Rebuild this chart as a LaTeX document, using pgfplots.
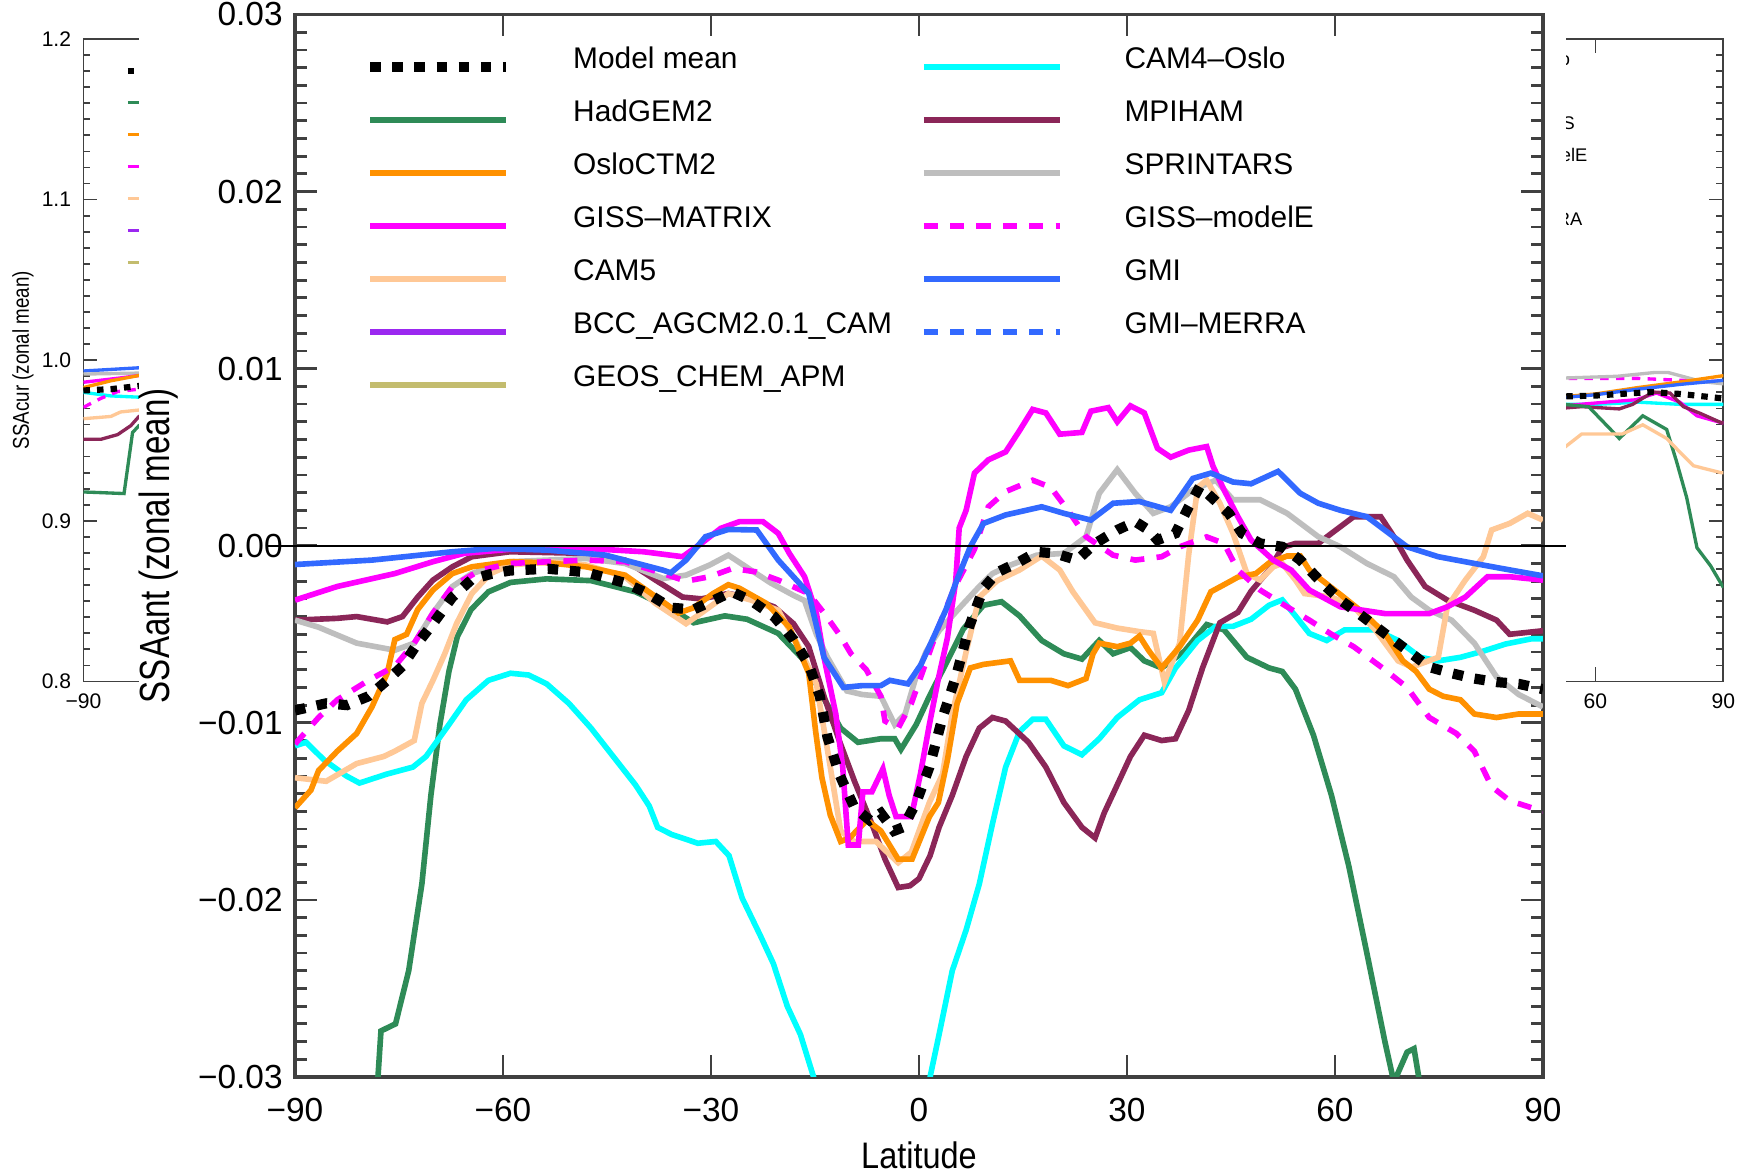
\documentclass[border=0pt]{standalone}
\usepackage{fontspec}
\setmainfont{Liberation Sans}
\usepackage{graphicx}
\usepackage{pgfplots}
\pgfplotsset{compat=1.18}

\definecolor{cHad}{RGB}{46,139,87}
\definecolor{cOslo}{RGB}{255,145,0}
\definecolor{cGissM}{RGB}{255,0,255}
\definecolor{cCam5}{RGB}{255,200,150}
\definecolor{cBcc}{RGB}{155,40,240}
\definecolor{cGeos}{RGB}{195,188,110}
\definecolor{cCam4}{RGB}{0,255,255}
\definecolor{cMpi}{RGB}{139,38,88}
\definecolor{cSpr}{RGB}{190,190,190}
\definecolor{cGmi}{RGB}{50,105,255}

\tikzset{
 pMM/.style={black, line width=2.9pt, dash pattern=on 3pt off 3.3pt},
 pHad/.style={cHad, line width=1.6pt},
 pOslo/.style={cOslo, line width=1.6pt},
 pGissM/.style={cGissM, line width=1.6pt},
 pCam5/.style={cCam5, line width=1.6pt},
 pBcc/.style={cBcc, line width=1.6pt},
 pGeos/.style={cGeos, line width=1.6pt},
 pCam4/.style={cCam4, line width=1.6pt},
 pMpi/.style={cMpi, line width=1.6pt},
 pSpr/.style={cSpr, line width=1.6pt},
 pGissE/.style={cGissM, line width=1.6pt, dash pattern=on 4pt off 3.5pt},
 pGmi/.style={cGmi, line width=1.6pt},
 pGmiM/.style={cGmi, line width=1.6pt, dash pattern=on 4pt off 3.5pt},
 bg/.style={line width=0.95pt},
 bgd/.style={line width=0.95pt, dash pattern=on 2.4pt off 2.1pt},
 bgMM/.style={line width=1.75pt, dash pattern=on 1.85pt off 2pt},
}

\newcommand{\legendall}[3]{%
\addlegendimage{pMM,#3}\addlegendentry{Model mean}
\addlegendimage{pCam4,#1}\addlegendentry{CAM4–Oslo}
\addlegendimage{pHad,#1}\addlegendentry{HadGEM2}
\addlegendimage{pMpi,#1}\addlegendentry{MPIHAM}
\addlegendimage{pOslo,#1}\addlegendentry{OsloCTM2}
\addlegendimage{pSpr,#1}\addlegendentry{SPRINTARS}
\addlegendimage{pGissM,#1}\addlegendentry{GISS–MATRIX}
\addlegendimage{pGissE,#2}\addlegendentry{GISS–modelE}
\addlegendimage{pCam5,#1}\addlegendentry{CAM5}
\addlegendimage{pGmi,#1}\addlegendentry{GMI}
\addlegendimage{pBcc,#1}\addlegendentry{BCC\_AGCM2.0.1\_CAM}
\addlegendimage{pGmiM,#2}\addlegendentry{GMI–MERRA}
\addlegendimage{pGeos,#1}\addlegendentry{GEOS\_CHEM\_APM}
}

\pgfplotsset{
 mainlegend/.style={
  legend columns=2, legend cell align=left,
  legend style={at={(axis description cs:0.0561,0.9755)}, anchor=north west,
   draw=none, fill=none, inner sep=0pt, outer sep=0pt, row sep=0pt,
   font=\fontsize{8.5}{10}\selectfont,
   nodes={inner sep=0pt, text height=0.275cm, text depth=0.255cm},
   /tikz/every odd column/.append style={column sep=0.62cm},
   /tikz/every even column/.append style={column sep=0.29cm}},
  legend image code/.code={\draw[##1] (0cm,0cm) -- (1.36cm,0cm);}},
 bglegend/.style={
  legend columns=2, legend cell align=left,
  legend style={at={(axis description cs:0.0537,0.9755)}, anchor=north west,
   draw=none, fill=none, inner sep=0pt, outer sep=0pt, row sep=0pt,
   font=\fontsize{5.2}{6}\selectfont,
   nodes={inner sep=0pt, text height=0.16cm, text depth=0.16cm},
   /tikz/every odd column/.append style={column sep=0.38cm},
   /tikz/every even column/.append style={column sep=0.178cm}},
  legend image code/.code={\draw[##1] (0cm,0cm) -- (0.836cm,0cm);}},
 bgaxis/.style={
  scale only axis, width=7.68cm, height=6.425cm, anchor=south west,
  xmin=-90, xmax=90, ymin=0.8, ymax=1.2,
  xtick={-90,-60,-30,0,30,60,90}, xticklabels={−90,−60,−30,0,30,60,90},
  ytick={0.8,0.9,1.0,1.1,1.2}, yticklabels={0.8,0.9,1.0,1.1,1.2},
  minor y tick num=9, tick align=inside,
  major tick length=0.14cm, minor tick length=0.07cm,
  tick style={black!75, line width=0.5pt},
  axis line style={black!75, line width=0.55pt},
  tick label style={font=\fontsize{6}{7}\selectfont},
  scaled y ticks=false, bglegend},
}

\begin{document}
\begin{tikzpicture}
\path[use as bounding box] (0,0) rectangle (17.46,11.72);

% ---------- background: left panel (SSAcur) ----------
\begin{axis}[bgaxis, at={(0.835cm,4.905cm)},
  ylabel={\scalebox{0.82}[1]{\fontsize{6.5}{8}\selectfont SSAcur (zonal mean)}},
  ylabel style={at={(axis description cs:-0.0788,0.5)}, anchor=center}]
\legendall{bg}{bgd}{bgMM}
\addplot[pGmi,bg,forget plot] coordinates {(-90,0.9933) (-77,0.9953) (-70,0.996)};
\addplot[pSpr,bg,forget plot] coordinates {(-90,0.9914) (-77,0.992) (-70,0.992)};
\addplot[pGissM,bg,forget plot] coordinates {(-90,0.9863) (-81.3,0.989) (-77,0.9905) (-70,0.991)};
\addplot[pOslo,bg,forget plot] coordinates {(-90,0.983) (-83.6,0.9872) (-77,0.9905) (-70,0.991)};
\addplot[pCam4,bg,forget plot] coordinates {(-90,0.980) (-83.6,0.9778) (-77,0.977) (-70,0.977)};
\addplot[pGissE,bgd,forget plot] coordinates {(-90,0.9707) (-85.9,0.9763) (-82,0.9805) (-77,0.982) (-70,0.983)};
\addplot[pCam5,bg,forget plot] coordinates {(-90,0.9636) (-83.6,0.965) (-81.3,0.9678) (-77,0.969) (-70,0.97)};
\addplot[pMpi,bg,forget plot] coordinates {(-90,0.9508) (-85.9,0.9508) (-82,0.9537) (-78.9,0.9593) (-77,0.965) (-70,0.97)};
\addplot[pHad,bg,forget plot] coordinates {(-90,0.9180) (-80.5,0.9170) (-78.5,0.955) (-77,0.9593) (-70,0.962)};
\addplot[pMM,bgMM,forget plot] coordinates {(-90,0.9812) (-83.6,0.982) (-77,0.984) (-70,0.985)};
\end{axis}

% ---------- background: right panel ----------
\begin{axis}[bgaxis, at={(9.554cm,4.905cm)},
  legend style={at={(axis description cs:0.066,0.984)}}]
\legendall{bg}{bgd}{bgMM}
\addplot[pGissE,bgd,forget plot] coordinates {(50,0.9887) (59,0.9887) (70,0.9887) (80,0.9875) (90,0.9867)};
\addplot[pSpr,bg,forget plot] coordinates {(50,0.9887) (65,0.9900) (74,0.9924) (77,0.9924) (85,0.9867) (90,0.9853)};
\addplot[pOslo,bg,forget plot] coordinates {(50,0.9768) (60,0.979) (70,0.983) (80,0.9865) (90,0.9904)};
\addplot[pGmi,bg,forget plot] coordinates {(50,0.9762) (60,0.9785) (70,0.982) (80,0.985) (90,0.9875)};
\addplot[pCam4,bg,forget plot] coordinates {(50,0.9725) (60,0.9725) (70,0.9739) (80,0.9725) (90,0.9725)};
\addplot[pGissM,bg,forget plot] coordinates {(50,0.9711) (62.4,0.9739) (69.5,0.9754) (74.3,0.9796) (79.8,0.9739) (83.8,0.9654) (89.4,0.9612) (90,0.961)};
\addplot[pMpi,bg,forget plot] coordinates {(50,0.9697) (56.8,0.9711) (65.6,0.9697) (68.7,0.9725) (73.5,0.9802) (77.5,0.9796) (80.6,0.9711) (84.6,0.9669) (89.4,0.9612) (90,0.961)};
\addplot[pHad,bg,forget plot] coordinates {(50,0.9725) (52.7,0.9725) (58.4,0.9711) (65.6,0.9513) (71.1,0.9654) (76.7,0.9569) (79,0.9371) (81.4,0.9144) (83.8,0.8833) (87,0.8720) (90,0.8585)};
\addplot[pCam5,bg,forget plot] coordinates {(50,0.944) (52.7,0.9456) (56.8,0.9541) (66.3,0.9541) (71.1,0.9598) (76.7,0.9513) (79.8,0.9428) (83,0.9343) (89.4,0.9300) (90,0.93)};
\addplot[pMM,bgMM,forget plot] coordinates {(50,0.9773) (60,0.978) (73,0.9802) (80,0.979) (90,0.9762)};
\end{axis}

% ---------- overlay ----------
\fill[white] (1.39,0) rectangle (15.66,11.72);

% ---------- main panel ----------
\begin{axis}[at={(2.95cm,0.95cm)}, anchor=south west,
  scale only axis, width=12.48cm, height=10.625cm,
  xmin=-90, xmax=90, ymin=-0.03, ymax=0.03,
  xtick={-90,-60,-30,0,30,60,90}, xticklabels={−90,−60,−30,0,30,60,90},
  ytick={-0.03,-0.02,-0.01,0,0.01,0.02,0.03},
  yticklabels={−0.03,−0.02,−0.01,0.00,0.01,0.02,0.03},
  scaled y ticks=false,
  minor y tick num=9, tick align=inside,
  major tick length=0.22cm, minor tick length=0.12cm,
  tick style={black!75, line width=0.8pt},
  axis line style={black!75, line width=0.9pt},
  tick label style={font=\fontsize{9.5}{11}\selectfont},
  xticklabel style={yshift=-0.09cm},
  xlabel={\scalebox{0.88}[1]{\fontsize{10.5}{12}\selectfont Latitude}},
  xlabel style={at={(axis description cs:0.5,-0.0734)}, anchor=center},
  ylabel={\scalebox{0.785}[1]{\fontsize{12}{14}\selectfont SSAant (zonal mean)}},
  ylabel style={at={(axis description cs:-0.109,0.5)}, anchor=center},
  clip mode=individual, mainlegend]
\legendall{}{}{}
% HadGEM2
\addplot[pHad,forget plot] coordinates {(-78.2,-0.031) (-77.6,-0.0274) (-75.5,-0.0270) (-73.6,-0.0240) (-71.7,-0.0191) (-70.4,-0.0141) (-69.1,-0.0101) (-67.8,-0.0071) (-66.6,-0.00515) (-64.6,-0.0036) (-62.1,-0.0026) (-58.9,-0.00207) (-53.7,-0.00187) (-47.3,-0.00197) (-40.9,-0.0026) (-35.7,-0.00356) (-32.5,-0.00435) (-28,-0.00396) (-24.8,-0.00415) (-20.3,-0.00495) (-16.5,-0.0065) (-13.9,-0.0085) (-11.3,-0.0103) (-8.8,-0.0111) (-5.5,-0.0109) (-3.5,-0.0109) (-2.6,-0.0115) (-0.4,-0.0101) (1.5,-0.0085) (4.1,-0.0065) (6.4,-0.0047) (9.3,-0.00336) (11.9,-0.00316) (14.5,-0.00396) (17.7,-0.00535) (20.9,-0.0061) (23.5,-0.0064) (26,-0.00535) (28,-0.0061) (30.5,-0.00575) (32.5,-0.0065) (35,-0.0069) (38.3,-0.00595) (41.5,-0.00445) (44,-0.00475) (47.3,-0.0063) (50.5,-0.0069) (52.4,-0.0071) (54.3,-0.0081) (56.9,-0.0107) (59.5,-0.0141) (62,-0.0181) (64.6,-0.0230) (67.2,-0.0280) (68.5,-0.0303) (70.4,-0.0286) (71.4,-0.0284) (72.3,-0.0305) (73,-0.032)};
% CAM4-Oslo
\addplot[pCam4,forget plot] coordinates {(-90,-0.0113) (-88.4,-0.0111) (-85.8,-0.0121) (-82.6,-0.0130) (-80.7,-0.0134) (-76.8,-0.0129) (-73,-0.0125) (-71.1,-0.0119) (-67.8,-0.0101) (-65.3,-0.0087) (-62.1,-0.0076) (-58.9,-0.0072) (-56.3,-0.0073) (-53.7,-0.0078) (-50.5,-0.0089) (-47.3,-0.0103) (-44.1,-0.0119) (-40.9,-0.0135) (-38.9,-0.0147) (-37.7,-0.0159) (-35.7,-0.0163) (-31.9,-0.0168) (-29.3,-0.0167) (-27.4,-0.0175) (-25.5,-0.0199) (-22.9,-0.0220) (-21,-0.0236) (-19,-0.0260) (-17.1,-0.0276) (-15.2,-0.0300) (-14.6,-0.0315) (1.2,-0.0315) (1.6,-0.0300) (2.9,-0.0276) (4.8,-0.0240) (6.8,-0.0217) (8.7,-0.0191) (10.6,-0.0157) (12.5,-0.0125) (14.5,-0.0105) (16.4,-0.0098) (18.3,-0.0098) (20.9,-0.0113) (23.5,-0.0118) (26,-0.0109) (28.6,-0.0097) (31.8,-0.0087) (35,-0.0083) (37,-0.0069) (40.2,-0.00535) (42.8,-0.00455) (45.3,-0.00455) (47.9,-0.00415) (50.5,-0.00336) (52.4,-0.00306) (54.3,-0.00396) (56.3,-0.00495) (58.8,-0.00535) (61.4,-0.00475) (65.9,-0.00475) (69.1,-0.00535) (72.3,-0.0063) (74.9,-0.0065) (78.1,-0.0063) (81.4,-0.00595) (84.6,-0.00555) (88.4,-0.00525) (90,-0.00525)};
% MPIHAM
\addplot[pMpi,forget plot] coordinates {(-90,-0.0042) (-83.9,-0.0041) (-81.1,-0.0040) (-76.7,-0.0043) (-74.5,-0.0040) (-72.3,-0.0029) (-70.1,-0.00194) (-67.3,-0.00119) (-64.5,-0.00062) (-59,-0.00034) (-48,-0.00043) (-42.4,-0.00081) (-38,-0.00194) (-34.1,-0.0029) (-31.4,-0.0030) (-27.5,-0.0027) (-24.8,-0.0029) (-20.9,-0.00345) (-18.1,-0.0044) (-15.9,-0.0057) (-13.7,-0.0085) (-11.5,-0.0110) (-9.3,-0.0133) (-6.8,-0.0157) (-4.9,-0.0177) (-3.0,-0.0193) (-1.3,-0.0192) (0,-0.0188) (1.6,-0.0175) (2.9,-0.0159) (4.8,-0.0141) (6.8,-0.0119) (8.7,-0.0103) (10.6,-0.0097) (12.5,-0.0099) (15.8,-0.0111) (18.3,-0.0125) (20.9,-0.0145) (23.5,-0.0159) (25.4,-0.0165) (26.7,-0.0151) (28.6,-0.0135) (30.5,-0.0119) (32.5,-0.0107) (35,-0.0110) (37,-0.0109) (38.9,-0.0093) (40.9,-0.0069) (43.4,-0.00435) (46,-0.00376) (47.9,-0.00257) (50.5,-0.00137) (52.4,-0.0001) (54.3,0.00013) (57.6,0.00013) (59.5,0.0007) (62.7,0.00164) (66.6,0.00164) (68.5,0.00051) (70.4,-0.00081) (73,-0.0023) (76.2,-0.00307) (80.1,-0.00364) (83.3,-0.0042) (85.2,-0.0050) (90,-0.0048)};
% SPRINTARS
\addplot[pSpr,forget plot] coordinates {(-90,-0.0042) (-86.6,-0.0046) (-81.1,-0.0055) (-75.6,-0.0059) (-72.8,-0.0055) (-70.1,-0.0038) (-67.3,-0.0023) (-64.5,-0.00157) (-59,-0.0009) (-48,-0.00072) (-42.4,-0.0010) (-36.9,-0.00185) (-33.6,-0.00166) (-30.2,-0.00109) (-27.5,-0.00053) (-24.2,-0.00138) (-21.4,-0.0021) (-18.1,-0.0028) (-16.5,-0.0031) (-14.8,-0.0050) (-13.2,-0.0063) (-10.4,-0.0082) (-8.2,-0.0084) (-5.5,-0.0085) (-3.5,-0.0101) (-2,-0.0095) (-0.5,-0.0075) (1,-0.0060) (2.9,-0.0048) (6.1,-0.0034) (8.7,-0.0023) (10.6,-0.00157) (13.2,-0.00109) (17,-0.00053) (20.9,-0.00043) (24.1,0.00051) (26,0.00296) (28.6,0.0043) (31.2,0.00296) (33.8,0.00183) (36.3,0.0022) (39.5,0.00315) (42.8,0.0037) (45.3,0.0026) (49.2,0.0026) (53.1,0.00183) (57.6,0.00051) (60.8,-0.00006) (64.6,-0.0010) (68.5,-0.00175) (71,-0.0029) (73.6,-0.00364) (76.8,-0.0042) (80.1,-0.0055) (83.3,-0.0074) (86.5,-0.0084) (90,-0.0091)};
% CAM5
\addplot[pCam5,forget plot] coordinates {(-90,-0.0131) (-85.5,-0.0133) (-81.1,-0.0123) (-77.2,-0.0119) (-75.6,-0.0116) (-72.8,-0.0110) (-71.7,-0.0089) (-70.1,-0.0076) (-68.4,-0.0061) (-66.7,-0.0044) (-64.5,-0.0027) (-61.8,-0.00157) (-59,-0.00109) (-53.5,-0.0009) (-48,-0.00109) (-42.4,-0.00175) (-38,-0.00326) (-33.6,-0.0044) (-31.4,-0.0038) (-27.5,-0.0027) (-24.2,-0.00307) (-20.3,-0.00364) (-17.6,-0.0055) (-14.8,-0.0078) (-13,-0.0120) (-11.3,-0.0161) (-9.4,-0.0167) (-6.2,-0.0167) (-3.0,-0.0179) (-1.1,-0.0173) (1.5,-0.0145) (3.4,-0.0129) (4.8,-0.0095) (6.8,-0.0060) (8.7,-0.0029) (11.3,-0.00197) (14.5,-0.00137) (17.7,-0.00058) (20.3,-0.00137) (22.2,-0.0026) (25.4,-0.00435) (28.6,-0.00465) (31.8,-0.00485) (33.8,-0.00495) (35.4,-0.0077) (37.6,-0.0055) (38.9,-0.0005) (40.2,0.0033) (41.5,0.0037) (43.4,0.0024) (45.3,0.0007) (47.3,-0.00157) (49.2,-0.00194) (51.1,-0.00119) (52.4,-0.0010) (54.3,-0.00194) (55.6,-0.0027) (59.5,-0.0029) (62.7,-0.00345) (65.9,-0.0048) (69.1,-0.0065) (71.1,-0.00685) (74.9,-0.0063) (76.2,-0.00345) (78.8,-0.00194) (81.4,-0.00062) (82.6,0.00089) (85.2,0.00126) (87.8,0.00183) (90,0.00145)};
% OsloCTM2
\addplot[pOslo,forget plot] coordinates {(-90,-0.0148) (-87.7,-0.0138) (-86.6,-0.0127) (-83.9,-0.0116) (-81.1,-0.0106) (-78.9,-0.0091) (-76.7,-0.0072) (-75.6,-0.0053) (-73.9,-0.0050) (-72.3,-0.0036) (-70.1,-0.0025) (-67.3,-0.00157) (-64.5,-0.00119) (-59,-0.0009) (-53.5,-0.00096) (-48,-0.00119) (-42.4,-0.00166) (-36.9,-0.00317) (-34.7,-0.0038) (-32.5,-0.0035) (-29.7,-0.0027) (-27.5,-0.0022) (-25.9,-0.0024) (-22,-0.00326) (-18.7,-0.0046) (-15.9,-0.0072) (-14.9,-0.0105) (-14.0,-0.0131) (-12.8,-0.0152) (-11.3,-0.0167) (-10,-0.0165) (-7.5,-0.0155) (-5.5,-0.0161) (-3.0,-0.0177) (-1.0,-0.0177) (1.5,-0.0153) (2.8,-0.0145) (4.1,-0.0121) (5.5,-0.0089) (7.4,-0.0069) (9.3,-0.0067) (13.2,-0.0065) (14.5,-0.0076) (19,-0.0076) (21.5,-0.0079) (24.1,-0.0075) (25.1,-0.0061) (26,-0.0055) (28.6,-0.0057) (30.5,-0.0055) (31.8,-0.0051) (33.1,-0.0059) (35,-0.0069) (37.6,-0.0057) (40.2,-0.0042) (42.1,-0.0026) (44,-0.0022) (46,-0.00177) (48.6,-0.00157) (50.5,-0.00097) (53.1,-0.00058) (55,-0.00058) (56.3,-0.00137) (58.2,-0.00197) (60.8,-0.00276) (64,-0.00376) (67.2,-0.00495) (69.8,-0.0065) (71.7,-0.0071) (73.6,-0.0081) (75.6,-0.0085) (78.1,-0.0087) (80.1,-0.0095) (83.3,-0.0097) (86.5,-0.0095) (90,-0.0095)};
% GISS-modelE
\addplot[pGissE,forget plot] coordinates {(-90,-0.0112) (-86.6,-0.0097) (-83.9,-0.0087) (-79.4,-0.0076) (-75.6,-0.0068) (-72.8,-0.0055) (-70.1,-0.0038) (-67.3,-0.0023) (-63.4,-0.0014) (-59,-0.0010) (-48,-0.00081) (-42.4,-0.0009) (-36.9,-0.00157) (-33.6,-0.0020) (-30.2,-0.00175) (-26.9,-0.00128) (-23.6,-0.00147) (-20.3,-0.00194) (-15.9,-0.0027) (-13.7,-0.0038) (-11.5,-0.0050) (-9.8,-0.0061) (-7.6,-0.0070) (-5.5,-0.0085) (-4.9,-0.0099) (-3.0,-0.0103) (-1.1,-0.0089) (0.9,-0.0067) (2.8,-0.0046) (5.2,-0.0023) (8,-0.0002) (10,0.0022) (12.5,0.00306) (16.4,0.0037) (19,0.0033) (21.5,0.0020) (24.1,0.00051) (28,-0.00053) (31.2,-0.00081) (35,-0.00062) (37.6,-0.00006) (41.5,0.0005) (44,0.00013) (46,-0.00138) (49.2,-0.0025) (53.1,-0.00345) (56.3,-0.0042) (59.5,-0.0050) (62.7,-0.0057) (67.2,-0.0070) (70.4,-0.0080) (73.6,-0.0097) (77.5,-0.0106) (80.1,-0.0116) (82.6,-0.0136) (85.2,-0.0144) (90,-0.0150)};
% GISS-MATRIX
\addplot[pGissM,forget plot] coordinates {(-90,-0.00307) (-83.9,-0.0023) (-75.6,-0.00157) (-70.1,-0.0009) (-65.6,-0.00043) (-59,-0.0002) (-48,-0.00015) (-39.7,-0.00034) (-34.1,-0.00062) (-31.4,0.00013) (-28.6,0.00098) (-25.9,0.00136) (-22.5,0.00136) (-20.3,0.0007) (-18.7,-0.00043) (-16.5,-0.00175) (-14.8,-0.0038) (-13.7,-0.0063) (-12,-0.0095) (-11,-0.0125) (-10.2,-0.0169) (-8.75,-0.0169) (-8.1,-0.0139) (-6.8,-0.0139) (-5.2,-0.0126) (-4.3,-0.0141) (-3.3,-0.0153) (-1.1,-0.0153) (0.2,-0.0129) (1.5,-0.0101) (2.8,-0.0075) (4.1,-0.0052) (5.3,-0.0020) (5.8,0.0010) (6.8,0.0020) (8.0,0.0041) (10,0.00485) (12.5,0.0053) (14.5,0.0065) (16.4,0.0077) (18.3,0.0075) (20.3,0.0063) (23.5,0.0064) (24.8,0.0076) (27.3,0.0078) (28.6,0.0070) (30.5,0.0079) (32.5,0.0075) (34.4,0.0055) (36.3,0.0050) (38.9,0.0054) (41.5,0.0056) (42.4,0.0045) (44,0.00315) (46,0.00164) (47.9,0.00032) (51.1,-0.00081) (53.7,-0.00138) (56.3,-0.0025) (60.8,-0.00345) (67.2,-0.00383) (73.6,-0.00383) (76.2,-0.00345) (78.8,-0.0029) (82,-0.00175) (85.2,-0.00175) (90,-0.00194)};
% GMI
\addplot[pGmi,forget plot] coordinates {(-90,-0.00106) (-78.9,-0.00081) (-67.3,-0.00034) (-61.2,-0.00015) (-53.5,-0.00025) (-45.2,-0.00053) (-36.9,-0.00138) (-35.8,-0.00153) (-33.6,-0.00081) (-30.8,0.00051) (-27.5,0.00092) (-23.4,0.00089) (-20.3,-0.00081) (-15.9,-0.0027) (-13.7,-0.0063) (-10.9,-0.0080) (-8.2,-0.0079) (-5.5,-0.0079) (-4.2,-0.0076) (-1.6,-0.0078) (0.3,-0.0067) (2.3,-0.0050) (3.9,-0.0036) (5.5,-0.0019) (7.4,-0.00006) (9.3,0.00126) (12.5,0.00174) (17.7,0.0022) (20.9,0.00183) (24.8,0.00145) (28,0.0024) (31.8,0.0025) (36.3,0.0020) (39.5,0.0038) (42.1,0.0041) (45.3,0.0036) (47.9,0.0035) (51.8,0.0042) (55,0.00296) (57.6,0.0024) (60.8,0.0020) (64.6,0.00164) (70.4,-0.00006) (74.9,-0.00062) (80.1,-0.0010) (84,-0.00128) (90,-0.0017)};
% Model mean
\addplot[pMM,forget plot] coordinates {(-90,-0.0093) (-85.5,-0.0089) (-82.5,-0.0090) (-79.4,-0.0085) (-76.7,-0.0076) (-74.5,-0.0068) (-72.3,-0.0055) (-70.1,-0.0044) (-67.3,-0.0029) (-64.5,-0.0019) (-61.8,-0.0016) (-59,-0.0014) (-53.5,-0.0013) (-48,-0.0015) (-42.4,-0.0021) (-39.1,-0.0027) (-35.8,-0.0035) (-32.5,-0.0036) (-29.7,-0.0031) (-27,-0.0026) (-24.2,-0.0031) (-20.9,-0.0040) (-18.1,-0.0053) (-15.9,-0.0067) (-14.3,-0.0085) (-13.2,-0.0108) (-11.5,-0.0129) (-9.3,-0.0148) (-7.1,-0.0155) (-5.5,-0.0151) (-3.6,-0.0161) (-2.3,-0.0159) (-0.4,-0.0145) (1.5,-0.0125) (3.4,-0.0097) (5.4,-0.0073) (7.3,-0.0045) (9.3,-0.0024) (11.3,-0.0015) (14.5,-0.0009) (17,-0.00035) (19.6,-0.00043) (22.8,-0.00081) (25.4,0.00013) (28.6,0.00089) (31.2,0.00136) (33.1,0.00089) (34.4,0.00032) (37,0.0007) (38.9,0.0022) (40.5,0.00334) (42.1,0.00277) (44.7,0.00183) (46.6,0.0007) (49.2,0.00013) (52.4,-0.00006) (55,-0.00081) (58.2,-0.00213) (60.8,-0.00307) (64,-0.0040) (67.2,-0.00496) (70.4,-0.0059) (73.6,-0.00685) (76.8,-0.0072) (80.1,-0.0075) (83.3,-0.0077) (86.5,-0.0078) (90,-0.0081)};
\draw[black, line width=0.55pt] (axis cs:-93.9,0) -- (axis cs:93.3,0);
\end{axis}
\end{tikzpicture}
\end{document}
